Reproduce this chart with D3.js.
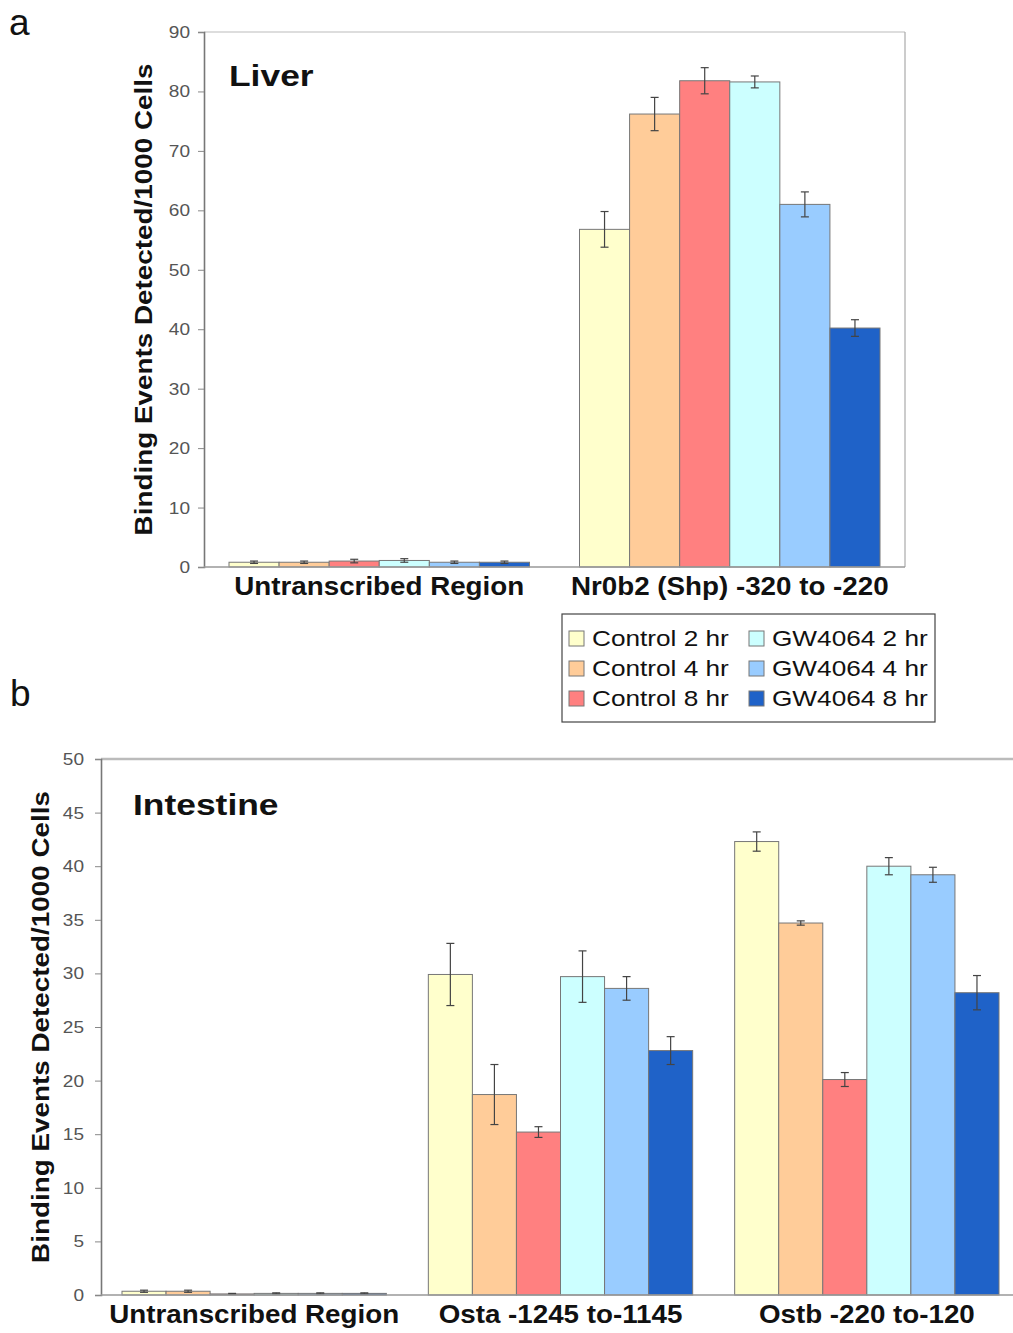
<html>
<head>
<script src="https://d3js.org/d3.v7.min.js"></script>
<style>
  body { margin: 0; background: #fff; }
  text { font-family: "Liberation Sans", Arial, sans-serif; }
</style>
</head>
<body>
<div id="chart"></div>
<script>
// series (same order in both panels)
var series = ["Control 2 hr", "Control 4 hr", "Control 8 hr", "GW4064 2 hr", "GW4064 4 hr", "GW4064 8 hr"];
var colors = ["#FFFFCC", "#FFCC99", "#FF8080", "#CCFFFF", "#99CCFF", "#1F62C8"];

// panel a - liver
var liverGroups = ["Untranscribed Region", "Nr0b2 (Shp) -320 to -220"];
var liverValues = [
  [0.8, 0.8, 1.0, 1.1, 0.8, 0.8],
  [56.8, 76.2, 81.8, 81.6, 61.0, 40.2]
];
var liverErrors = [
  [0.2, 0.2, 0.3, 0.3, 0.2, 0.2],
  [3.0, 2.8, 2.2, 1.0, 2.1, 1.4]
];
var liverTicks = [0, 10, 20, 30, 40, 50, 60, 70, 80, 90];

// panel b - intestine
var intGroups = ["Untranscribed Region", "Osta -1245 to-1145", "Ostb -220 to-120"];
var intValues = [
  [0.35, 0.35, 0.1, 0.15, 0.15, 0.15],
  [29.9, 18.7, 15.2, 29.7, 28.6, 22.8],
  [42.3, 34.7, 20.1, 40.0, 39.2, 28.2]
];
var intErrors = [
  [0.1, 0.1, 0.05, 0.05, 0.05, 0.05],
  [2.9, 2.8, 0.5, 2.4, 1.1, 1.3],
  [0.9, 0.2, 0.65, 0.8, 0.7, 1.6]
];
var intTicks = [0, 5, 10, 15, 20, 25, 30, 35, 40, 45, 50];

var svg = d3.select("#chart").append("svg")
  .attr("width", 1013)
  .attr("height", 1333);

// the original figure's text is a bit wider than Arial, so stretch it
function stretch(sel, f) {
  sel.each(function () {
    var w = this.getComputedTextLength();
    d3.select(this).attr("textLength", w * f).attr("lengthAdjust", "spacingAndGlyphs");
  });
}

function drawPanel(opt) {
  var g = svg.append("g");
  var x0 = d3.scaleBand().domain(opt.groups).range([opt.left, opt.right]);
  var gap = opt.gap;
  var x1 = d3.scaleBand().domain(series).range([gap / 2, x0.bandwidth() - gap / 2]);
  var y = d3.scaleLinear().domain([0, opt.max]).range([opt.bottom, opt.top]);

  // frame
  g.append("line").attr("x1", opt.left).attr("x2", opt.frameRight)
    .attr("y1", opt.top).attr("y2", opt.top)
    .attr("stroke", "#bbb").attr("stroke-width", opt.topWidth);
  if (opt.rightBorder) {
    g.append("line").attr("x1", opt.right).attr("x2", opt.right)
      .attr("y1", opt.top).attr("y2", opt.bottom)
      .attr("stroke", "#aaa").attr("stroke-width", 1.2);
  }

  // bars
  opt.groups.forEach(function (grp, gi) {
    var rows = series.map(function (s, si) {
      return { s: s, i: si, v: opt.values[gi][si], e: opt.errors[gi][si] };
    });
    var gg = g.append("g").attr("transform", "translate(" + x0(grp) + ",0)");
    gg.selectAll("rect").data(rows).enter().append("rect")
      .attr("x", function (d) { return x1(d.s); })
      .attr("y", function (d) { return y(d.v); })
      .attr("width", x1.bandwidth())
      .attr("height", function (d) { return y(0) - y(d.v); })
      .attr("fill", function (d) { return colors[d.i]; })
      .attr("stroke", "#777").attr("stroke-width", 1);
    var eb = gg.selectAll("g.err").data(rows).enter().append("g")
      .attr("stroke", "#444").attr("stroke-width", 1.2);
    eb.append("line")
      .attr("x1", function (d) { return x1(d.s) + x1.bandwidth() / 2; })
      .attr("x2", function (d) { return x1(d.s) + x1.bandwidth() / 2; })
      .attr("y1", function (d) { return y(d.v + d.e); })
      .attr("y2", function (d) { return y(d.v - d.e); });
    [1, -1].forEach(function (sgn) {
      eb.append("line")
        .attr("x1", function (d) { return x1(d.s) + x1.bandwidth() / 2 - 4; })
        .attr("x2", function (d) { return x1(d.s) + x1.bandwidth() / 2 + 4; })
        .attr("y1", function (d) { return y(d.v + sgn * d.e); })
        .attr("y2", function (d) { return y(d.v + sgn * d.e); });
    });
  });

  // y axis
  var ya = g.append("g").attr("transform", "translate(" + opt.left + ",0)")
    .call(d3.axisLeft(y).tickValues(opt.ticks).tickSize(6).tickPadding(opt.tickPad));
  ya.select(".domain").attr("stroke", "#777").attr("stroke-width", 1.6);
  ya.selectAll(".tick line").attr("stroke", "#888");
  ya.selectAll(".tick text").attr("fill", "#555")
    .style("font-size", "17px")
    .style("font-family", "'Liberation Sans', Arial, sans-serif")
    .call(stretch, 1.12);

  // x axis
  var xa = g.append("g").attr("transform", "translate(0," + opt.bottom + ")")
    .call(d3.axisBottom(x0).tickSize(0).tickPadding(10));
  xa.select(".domain").attr("stroke", "#999").attr("stroke-width", 1.5)
    .attr("d", "M" + opt.left + ",0H" + opt.frameRight);
  xa.selectAll(".tick text").attr("fill", "#111")
    .style("font-size", "25px").style("font-weight", "bold")
    .style("font-family", "'Liberation Sans', Arial, sans-serif")
    .call(stretch, 1.11);

  // y title
  g.append("text")
    .attr("transform", "translate(" + opt.titleX + "," + (opt.top + opt.bottom) / 2 + ") rotate(-90)")
    .attr("text-anchor", "middle")
    .style("font-size", "24px").style("font-weight", "bold").attr("fill", "#111")
    .text("Binding Events Detected/1000 Cells")
    .call(stretch, 1.16);

  // panel name
  g.append("text").attr("x", opt.nameX).attr("y", opt.nameY)
    .style("font-size", "30px").style("font-weight", "bold").attr("fill", "#111")
    .text(opt.name)
    .call(stretch, 1.18);

  // panel letter
  svg.append("text").attr("x", opt.letterX).attr("y", opt.letterY)
    .style("font-size", "37px")
    .attr("fill", "#111")
    .text(opt.letter);
}

drawPanel({
  groups: liverGroups, values: liverValues, errors: liverErrors, ticks: liverTicks,
  max: 90, left: 204, right: 905, frameRight: 905, top: 32, bottom: 567, gap: 50,
  rightBorder: true, topWidth: 1.2, titleX: 152, tickPad: 8,
  name: "Liver", nameX: 229, nameY: 86, letter: "a", letterX: 9, letterY: 35
});

drawPanel({
  groups: intGroups, values: intValues, errors: intErrors, ticks: intTicks,
  max: 50, left: 101, right: 1020, frameRight: 1013, top: 759, bottom: 1295, gap: 42,
  rightBorder: false, topWidth: 2.5, titleX: 49, tickPad: 11,
  name: "Intestine", nameX: 133, nameY: 815, letter: "b", letterX: 10, letterY: 706
});

// legend
var legend = svg.append("g").attr("transform", "translate(562,614)");
legend.append("rect").attr("width", 373).attr("height", 108)
  .attr("fill", "#fff").attr("stroke", "#444").attr("stroke-width", 1.2);
var items = legend.selectAll("g.item").data(series).enter().append("g")
  .attr("transform", function (d, i) {
    return "translate(" + (i < 3 ? 7 : 187) + "," + (17 + (i % 3) * 30) + ")";
  });
items.append("rect").attr("width", 15).attr("height", 15)
  .attr("fill", function (d, i) { return colors[i]; })
  .attr("stroke", "#777");
items.append("text").attr("x", 23).attr("y", 15)
  .style("font-size", "22px").attr("fill", "#111")
  .style("font-family", "Arial, 'Liberation Sans', sans-serif")
  .text(function (d) { return d; })
  .call(stretch, 1.19);
</script>
</body>
</html>
